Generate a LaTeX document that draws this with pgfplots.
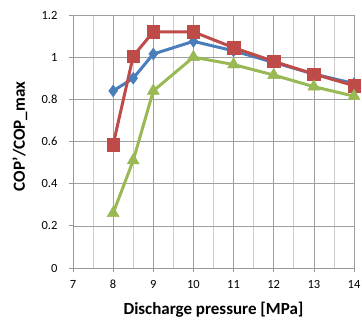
\documentclass[border=0pt]{standalone}
\usepackage{fontspec}
\setmainfont{Carlito}
\usepackage{pgfplots}
\pgfplotsset{compat=1.18}
\definecolor{xblue}{HTML}{4A7EBB}
\definecolor{xred}{HTML}{BE4B48}
\definecolor{xgreen}{HTML}{98B954}
\begin{document}
\begin{tikzpicture}
\begin{axis}[
  width=281pt, height=253pt, scale only axis,
  xmin=7, xmax=14, ymin=0, ymax=1.2,
  xtick={7,...,14}, ytick={0,0.2,...,1.2},
  minor xtick={7.5,8.5,...,13.5},
  yticklabel style={/pgf/number format/fixed,/pgf/number format/precision=1},
  /pgf/number format/assume math mode=true,
  grid=both,
  major grid style={draw=gray!75, line width=0.6pt},
  minor grid style={draw=gray!40, line width=0.6pt},
  axis line style={draw=gray!80, line width=0.7pt},
  tick align=outside, major tick length=4pt, minor tick length=0pt,
  tick style={draw=gray!80, line width=0.7pt},
  axis x line*=bottom, axis y line*=left,
  ticklabel style={font=\fontsize{12.5}{14}\selectfont},
  xticklabel style={yshift=-4.5pt},
  yticklabel style={xshift=-8pt},
  xlabel={\textbf{Discharge pressure [MPa]}},
  ylabel={\textbf{COP'/COP\_max}},
  label style={font=\fontsize{17}{19}\selectfont},
  xlabel style={at={([yshift=-42pt]axis description cs:0.5,0)}, anchor=center},
  ylabel style={at={([xshift=-53pt]axis description cs:0,0.52)}, anchor=center},
]
\addplot[xblue, line width=3pt, mark=diamond*, mark size=6pt, mark options={fill=xblue, line width=0.4pt}] coordinates {
(8,0.84) (8.5,0.90) (9,1.015) (10,1.075) (11,1.03) (12,0.975) (13,0.92) (14,0.875)};
\addplot[xred, line width=3pt, mark=square*, mark size=6.2pt, mark options={fill=xred, line width=0.4pt}] coordinates {
(8,0.585) (8.5,1.005) (9,1.12) (10,1.12) (11,1.045) (12,0.98) (13,0.92) (14,0.865)};
\addplot[xgreen, line width=3pt, mark=triangle*, mark size=7pt, mark options={fill=xgreen, line width=0.4pt}] coordinates {
(8,0.26) (8.5,0.51) (9,0.84) (10,1.0) (11,0.965) (12,0.915) (13,0.86) (14,0.815)};
\coordinate (sw) at (rel axis cs:0,0);
\coordinate (ne) at (rel axis cs:1,1);
\end{axis}
\pgfresetboundingbox
\path ([shift={(-73pt,-58pt)}]sw) rectangle ([shift={(8pt,15pt)}]ne);
\end{tikzpicture}
\end{document}
